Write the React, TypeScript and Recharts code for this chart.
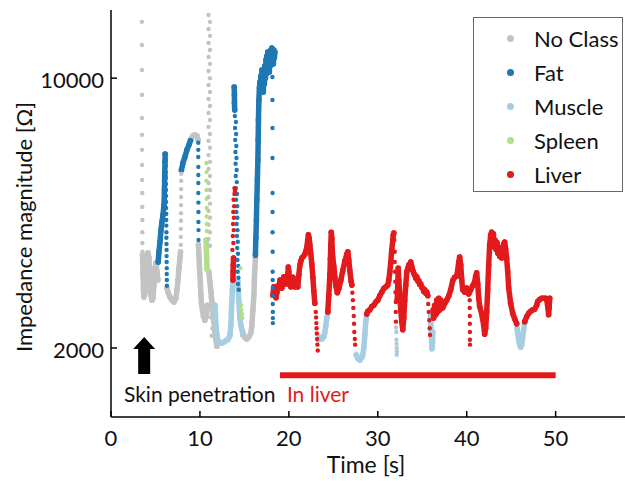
import React from "react";
import {
  ReferenceDot,
  ReferenceLine,
  Scatter,
  ScatterChart,
  XAxis,
  YAxis,
} from "recharts";

type Pt = [number, number];

const FONT = "Lato, 'Open Sans', sans-serif";

const classNames = ["No Class", "Fat", "Muscle", "Spleen", "Liver"];
const classColors = ["#c3c3c3", "#1f78b4", "#a6cee3", "#b2df8a", "#e31a1c"];
const xTicks = [0, 10, 20, 30, 40, 50];
const yTicks = [2000, 10000];

// ---- No Class (grey) ----
const noClassSparseA: Pt[] = [
  [3.47, 13990], [3.47, 12190], [3.48, 10500], [3.48, 9050], [3.48, 7890], [3.49, 7130],
  [3.49, 6520], [3.5, 5960], [3.5, 5450], [3.51, 5040], [3.51, 4640], [3.52, 4290],
  [3.52, 3990], [3.53, 3740], [3.54, 3550],
];
const noClassRunA: Pt[] = [
  [3.54, 3480], [3.6, 3090], [3.65, 2830], [3.71, 2710], [3.82, 2780], [3.93, 3000],
  [4.04, 3340], [4.16, 3530], [4.27, 3420], [4.38, 3040], [4.49, 2740], [4.61, 2660],
  [4.72, 2690], [4.83, 2910], [4.94, 3220], [5.06, 3320], [5.17, 3150], [5.28, 3000],
];
const noClassRunB: Pt[] = [
  [6.29, 2860], [6.4, 2790], [6.63, 2710], [6.85, 2660], [7.08, 2630], [7.3, 2690],
  [7.42, 2830], [7.53, 3000], [7.64, 3220], [7.75, 3420], [7.81, 3550],
];
const noClassSparseB: Pt[] = [
  [7.85, 3700], [7.86, 3880], [7.86, 4070], [7.87, 4270], [7.87, 4470], [7.88, 4690],
  [7.88, 4920], [7.89, 5160], [7.89, 5420], [7.9, 5650],
];
const noClassRunC: Pt[] = [
  [8.93, 6880], [8.99, 6960], [9.21, 7090], [9.44, 7130], [9.66, 7090], [9.78, 6920],
];
const noClassRunD: Pt[] = [
  [9.83, 3700], [9.89, 3480], [9.94, 3280], [10.0, 3090], [10.06, 2910], [10.11, 2740],
  [10.17, 2610], [10.28, 2510], [10.39, 2420], [10.56, 2360], [10.73, 2420], [10.84, 2580],
];
const noClassSparseC: Pt[] = [
  [10.97, 14580], [11.13, 13990], [10.97, 13410], [11.13, 12870], [10.97, 12340], [11.13, 11830],
  [10.97, 11350], [11.13, 10890], [10.97, 10440], [11.13, 10000], [10.97, 9600], [11.13, 9210],
  [10.97, 8830], [11.13, 8470], [10.97, 8120], [11.13, 7790], [10.97, 7480], [11.13, 7170],
  [10.97, 6880], [11.13, 6600], [10.97, 6320], [11.13, 6070], [10.97, 5820], [11.13, 5580],
  [10.97, 5350], [11.13, 5130], [10.97, 4920], [11.13, 4730], [10.97, 4530], [11.13, 4350],
  [10.97, 4170], [11.13, 3990], [10.97, 3830], [11.13, 3680],
  [11.2, 2700], [11.3, 2520], [11.25, 2400], [11.4, 2250], [11.32, 2150],
  [32.06, 2260], [32.11, 2050], [32.15, 1960],
];
const noClassRunE: Pt[] = [
  [11.01, 3150], [11.12, 2970], [11.24, 2790], [11.35, 2630], [11.46, 2480], [11.57, 2340],
  [11.69, 2200], [11.8, 2100], [11.91, 2020],
];
const noClassRunF: Pt[] = [
  [14.83, 2160], [15.06, 2130], [15.28, 2110], [15.51, 2140], [15.73, 2190], [15.84, 2290],
  [15.96, 2510], [16.07, 2740], [16.12, 3000], [16.18, 3220], [16.24, 3420],
];

// ---- Fat (dark blue) ----
const fatRunA: Pt[] = [
  [5.31, 3340], [5.39, 3550], [5.51, 3770], [5.62, 4040], [5.73, 4240], [5.84, 4420],
  [5.96, 4690], [6.01, 5130], [6.04, 5610], [6.07, 6070], [6.09, 6360],
];
const fatDotsA: Pt[] = [
  [6.16, 6140], [6.16, 5920], [6.17, 5710], [6.17, 5520], [6.18, 5320], [6.18, 5130],
  [6.19, 4950], [6.19, 4780], [6.2, 4610], [6.21, 4450], [6.21, 4290], [6.22, 4150],
  [6.23, 3990], [6.23, 3860], [6.24, 3720], [6.25, 3590], [6.25, 3460], [6.26, 3340],
  [6.27, 3220], [6.27, 3110], [6.28, 3000], [6.29, 2900],
];
const fatRunB: Pt[] = [
  [7.92, 5780], [8.09, 6030], [8.31, 6250], [8.54, 6520], [8.76, 6710], [8.93, 6880],
];
const fatDotsB: Pt[] = [
  [9.81, 6800], [9.81, 6520], [9.81, 6250], [9.82, 5890], [9.82, 5610], [9.82, 5350],
  [9.82, 5040], [9.83, 4760], [9.83, 4500], [9.83, 4240], [9.84, 4040], [9.84, 3810],
];
const fatRunC: Pt[] = [[13.85, 9490], [13.88, 9050], [13.88, 8630], [13.91, 8270]];
const fatDotsC: Pt[] = [
  [13.93, 7980], [14.05, 7700], [13.95, 7430], [14.07, 7170], [13.97, 6920], [14.09, 6670],
  [13.99, 6440], [14.11, 6210], [14.01, 6000], [14.13, 5780], [14.03, 5580], [14.15, 5380],
  [14.05, 5190], [14.17, 5010], [14.07, 4840], [14.19, 4660], [14.1, 4500], [14.21, 4350],
  [14.13, 4190], [14.23, 4040], [14.16, 3900], [14.26, 3770], [14.19, 3630], [14.28, 3510],
  [14.22, 3380], [14.31, 3260], [14.25, 3150], [14.33, 3040], [14.28, 2930], [14.36, 2830],
];
const fatRunD: Pt[] = [
  [16.24, 3480], [16.29, 3860], [16.35, 4290], [16.4, 4840], [16.46, 5450], [16.52, 6140],
  [16.55, 6920], [16.58, 7790], [16.63, 8780], [16.69, 9430], [16.74, 9770], [16.8, 9320],
  [16.85, 10130], [16.91, 9540], [16.97, 10500], [17.02, 9770], [17.08, 9890], [17.13, 9210],
  [17.19, 10380], [17.25, 9660], [17.3, 10760], [17.36, 10000], [17.42, 11150], [17.47, 10250],
  [17.53, 11410], [17.58, 10500], [17.64, 11690], [17.7, 10760], [17.75, 11410], [17.81, 10380],
  [17.87, 11550], [17.92, 10760], [17.98, 11830], [18.03, 11020], [18.09, 11970], [18.15, 11150],
  [18.2, 11690], [18.26, 10890], [18.31, 11830], [18.37, 11280], [18.43, 11690],
];
const fatDotsD: Pt[] = [
  [18.15, 10070], [18.15, 8780], [18.16, 7430], [18.16, 6210], [18.17, 5040], [18.17, 4500],
  [18.17, 3990], [18.18, 3550], [18.18, 3150], [18.18, 3000], [18.19, 2860], [18.19, 2730],
  [18.19, 2600], [18.2, 2480], [18.2, 2390], [18.2, 2320],
];

// ---- Muscle (light blue) ----
const muscleRunA: Pt[] = [
  [11.69, 2580], [11.74, 2440], [11.8, 2290], [11.91, 2160], [12.02, 2090], [12.25, 2060],
  [12.47, 2060], [12.7, 2070], [12.92, 2090], [13.15, 2100], [13.37, 2150], [13.48, 2290],
  [13.54, 2480], [13.6, 2660], [13.65, 2830], [13.71, 2970],
];
const muscleRunB: Pt[] = [
  [14.27, 2970], [14.33, 2790], [14.38, 2630], [14.44, 2510], [14.49, 2390], [14.61, 2290],
  [14.72, 2230], [14.83, 2190],
];
const muscleRunC: Pt[] = [
  [23.31, 2100], [23.48, 2130], [23.71, 2110], [23.93, 2140], [24.04, 2190], [24.16, 2290],
  [24.27, 2390], [24.38, 2480],
];
const muscleRunD: Pt[] = [
  [27.58, 1920], [27.75, 1880], [27.98, 1860], [28.2, 1890], [28.31, 1920], [28.43, 2000],
  [28.54, 2160], [28.65, 2340], [28.76, 2450],
];
const muscleRunE: Pt[] = [
  [35.93, 2420], [35.98, 2300], [36.02, 2180], [36.06, 2070], [36.1, 1990], [36.15, 2070],
  [36.2, 2200],
];
const muscleRunF: Pt[] = [
  [45.67, 2250], [45.73, 2190], [45.84, 2100], [45.96, 2040], [46.07, 2010], [46.18, 2040],
  [46.29, 2130], [46.4, 2230], [46.52, 2320],
];
const muscleDots: Pt[] = [[32.08, 2200], [32.1, 2100], [32.13, 2000], [32.13, 1920]];

// ---- Spleen (green) ----
const spleenRun: Pt[] = [
  [10.7, 3810], [10.72, 3660], [10.74, 3530], [10.76, 3400], [10.78, 3280], [10.8, 3200],
];
const spleenDots: Pt[] = [
  [10.73, 6030], [10.74, 5710], [10.74, 5420], [10.75, 5130], [10.75, 4870], [10.76, 4610],
  [10.76, 4380], [10.77, 4190], [10.77, 4020],
  [14.55, 3220], [14.61, 2580], [14.66, 2510], [14.72, 2450], [14.75, 2390],
];

// ---- Liver (red) ----
const liverRunA: Pt[] = [[13.71, 3000], [13.73, 3150], [13.75, 3280], [13.78, 3420]];
const liverRunB: Pt[] = [
  [18.2, 2740], [18.32, 2880], [18.43, 2830], [18.55, 2700], [18.65, 2780], [18.77, 2900],
  [18.88, 2860], [19.0, 3000], [19.1, 2970], [19.21, 2860], [19.33, 2960], [19.44, 3060],
  [19.55, 2950], [19.67, 3030], [19.78, 2930], [19.88, 3100], [19.94, 3240], [20.0, 3150],
  [20.05, 2990], [20.11, 3000], [20.22, 2880], [20.34, 2960], [20.45, 3050], [20.56, 2970],
  [20.68, 2880], [20.79, 2900], [20.9, 2960], [21.01, 2880], [21.12, 3090], [21.24, 3280],
  [21.35, 3360], [21.46, 3420], [21.62, 3450], [21.8, 3500], [21.91, 3560], [22.02, 3650],
  [22.12, 3800], [22.2, 3930], [22.28, 3850], [22.36, 3700], [22.47, 3500], [22.58, 3300],
  [22.7, 3050], [22.81, 2800], [22.92, 2610],
];
const liverRunC: Pt[] = [
  [24.38, 2480], [24.49, 2740], [24.61, 3090], [24.67, 3400], [24.72, 3700], [24.77, 3990],
  [24.83, 3850], [24.88, 3600], [24.94, 3420], [25.06, 3250], [25.17, 3050], [25.28, 2900],
  [25.45, 2780], [25.62, 2850], [25.85, 3000], [26.07, 3180], [26.3, 3360], [26.52, 3500],
  [26.63, 3550], [26.74, 3380], [26.85, 3180], [27.0, 2980], [27.08, 2910],
];
const liverRunD: Pt[] = [
  [28.76, 2450], [28.88, 2490], [29.1, 2510], [29.33, 2560], [29.55, 2580], [29.78, 2630],
  [30.0, 2660], [30.22, 2730], [30.45, 2790], [30.67, 2850], [30.9, 2880], [31.12, 2910],
  [31.24, 3000], [31.35, 3150], [31.46, 3340], [31.57, 3590], [31.69, 3810], [31.74, 3920],
  [31.8, 3970],
];
const liverRunE: Pt[] = [
  [32.19, 2660], [32.25, 2910], [32.3, 3220], [32.36, 3000], [32.47, 2740], [32.58, 2510],
  [32.7, 2340], [32.81, 2230], [32.92, 2390], [33.03, 2660], [33.15, 2910], [33.26, 3150],
  [33.48, 3280], [33.71, 3340], [33.82, 3250], [33.93, 3180], [34.05, 3120], [34.16, 3090],
  [34.27, 3030], [34.38, 3060], [34.5, 2980], [34.61, 2990], [34.72, 2920], [34.83, 2930],
  [34.95, 2870], [35.06, 2860], [35.17, 2800], [35.28, 2830], [35.4, 2770], [35.51, 2790],
  [35.62, 2730],
];
const liverRunF: Pt[] = [
  [36.24, 2510], [36.29, 2390], [36.4, 2580], [36.52, 2440], [36.63, 2660], [36.74, 2480],
  [36.85, 2690], [36.97, 2510], [37.08, 2660], [37.3, 2540], [37.53, 2610], [37.75, 2660],
  [37.98, 2730], [38.2, 2830], [38.43, 2990], [38.65, 3050], [38.88, 3070], [38.99, 3180],
  [39.1, 3340], [39.21, 3440], [39.33, 3280], [39.44, 3000], [39.55, 2830], [39.78, 2790],
  [40.0, 2860], [40.22, 2760], [40.45, 2830], [40.67, 2900], [40.9, 2970], [41.01, 3070],
  [41.12, 3130], [41.24, 2930], [41.35, 2690], [41.46, 2560], [41.69, 2450], [41.91, 2290],
  [42.02, 2170], [42.13, 2250], [42.25, 2480], [42.36, 2830], [42.47, 3280], [42.58, 3700],
  [42.7, 3920], [42.81, 3990], [42.9, 3750], [43.0, 3950], [43.1, 3650], [43.2, 3800],
  [43.3, 3600], [43.4, 3750], [43.5, 3520], [43.6, 3650], [43.71, 3450], [43.8, 3580],
  [43.93, 3420], [44.04, 3600], [44.16, 3720], [44.27, 3760], [44.38, 3600], [44.49, 3420],
  [44.61, 3150], [44.72, 2860], [44.94, 2610], [45.17, 2460], [45.39, 2380], [45.62, 2310],
];
const liverRunG: Pt[] = [
  [46.52, 2340], [46.74, 2410], [46.97, 2460], [47.19, 2490], [47.42, 2510], [47.64, 2520],
  [47.87, 2580], [47.98, 2640], [48.2, 2670], [48.43, 2690], [48.65, 2690], [48.88, 2690],
  [48.99, 2670], [49.1, 2580], [49.21, 2440], [49.27, 2540], [49.33, 2690],
];
const liverDots: Pt[] = [
  [13.65, 3590], [13.76, 3740], [13.7, 3900], [13.8, 4040], [13.72, 4190], [13.82, 4350],
  [13.75, 4500], [13.85, 4660], [13.78, 4840], [13.88, 5010], [13.88, 5190], [13.93, 5100],
  [13.96, 5160],
  [23.03, 2480], [23.06, 2400], [23.09, 2320], [23.12, 2250], [23.15, 2180], [23.18, 2110],
  [23.21, 2040], [23.25, 1970],
  [27.14, 2780], [27.2, 2660], [27.25, 2540], [27.3, 2420], [27.33, 2310], [27.36, 2200],
  [27.42, 2110], [27.45, 2040],
  [31.85, 3810], [31.91, 3550], [31.91, 3340], [31.94, 3150], [31.97, 2970], [31.99, 2790],
  [32.02, 2630], [32.02, 2480], [32.04, 2340],
  [35.67, 2600], [35.73, 2480], [35.79, 2360], [35.84, 2250], [35.88, 2160],
  [40.34, 2660], [40.34, 2540], [40.35, 2420], [40.35, 2310], [40.36, 2200], [40.36, 2100],
  [40.37, 2040],
];

// annotations
const liverBar = { from: 19.0, to: 50.0, level: 1700 };
const arrowTip = { t: 3.73, z: 2136 };
const skinLabel = { t: 1.46, z: 1449, text: "Skin penetration" };
const liverLabel = { t: 19.78, z: 1449, text: "In liver" };

const classRuns: Pt[][][] = [
  [noClassRunA, noClassRunB, noClassRunC, noClassRunD, noClassRunE, noClassRunF],
  [fatRunA, fatRunB, fatRunC, fatRunD],
  [muscleRunA, muscleRunB, muscleRunC, muscleRunD, muscleRunE, muscleRunF],
  [spleenRun],
  [liverRunA, liverRunB, liverRunC, liverRunD, liverRunE, liverRunF, liverRunG],
];
const classDots: Pt[][] = [
  [...noClassSparseA, ...noClassSparseB, ...noClassSparseC],
  [...fatDotsA, ...fatDotsB, ...fatDotsC, ...fatDotsD],
  muscleDots,
  spleenDots,
  liverDots,
];

const rows = (pts: Pt[]) => pts.map(([t, z]) => ({ t, z }));

const dot = (color: string, r: number) => (p: any) =>
  <circle cx={p.cx} cy={p.cy} r={r} fill={color} />;

const XTick = (p: any) => (
  <g>
    <line x1={p.x} x2={p.x} y1={p.y} y2={p.y - 6} stroke="#000" strokeWidth={1.5} />
    <text x={p.x} y={p.y + 29} textAnchor="middle" fontSize={22} fontFamily={FONT} fill="#111">
      {p.payload.value}
    </text>
  </g>
);

const YTick = (p: any) => (
  <g>
    <line x1={p.x} x2={p.x + 6} y1={p.y} y2={p.y} stroke="#000" strokeWidth={1.5} />
    <text x={p.x - 7} y={p.y + 10} textAnchor="end" fontSize={22} fontFamily={FONT} fill="#111">
      {p.payload.value}
    </text>
  </g>
);

export default function App() {
  return (
    <div style={{ position: "absolute", left: 0, top: 0, width: 625, height: 481, background: "#fff" }}>
      <ScatterChart width={625} height={481} margin={{ top: 10, right: 0, bottom: 0, left: 0 }}>
        <XAxis
          type="number"
          dataKey="t"
          domain={[0, 57.8]}
          ticks={xTicks}
          tick={<XTick />}
          tickLine={false}
          tickSize={0}
          tickMargin={0}
          height={64}
          allowDataOverflow
          axisLine={{ stroke: "#000", strokeWidth: 1.5 }}
          label={{
            content: () => (
              <text x={366} y={473} textAnchor="middle" fontSize={23} fontFamily={FONT} fill="#111">
                Time [s]
              </text>
            ),
          }}
        />
        <YAxis
          type="number"
          dataKey="z"
          scale="log"
          domain={[1325, 15016]}
          ticks={yTicks}
          tick={<YTick />}
          tickLine={false}
          tickSize={0}
          tickMargin={0}
          width={111}
          allowDataOverflow
          axisLine={{ stroke: "#000", strokeWidth: 1.5 }}
          label={{
            content: () => (
              <text
                transform="translate(23,227) rotate(-90)"
                textAnchor="middle"
                dominantBaseline="central"
                fontSize={22}
                fontFamily={FONT}
                fill="#111"
              >
                Impedance magnitude [Ω]
              </text>
            ),
          }}
        />
        {classNames.map((name, ci) =>
          classRuns[ci].map((run, ri) => (
            <Scatter
              key={`${name}-run-${ri}`}
              name={name}
              data={rows(run)}
              fill={classColors[ci]}
              line={{ stroke: classColors[ci], strokeWidth: 5.5, strokeLinejoin: "round", strokeLinecap: "round" }}
              shape={dot(classColors[ci], 2.8)}
              isAnimationActive={false}
            />
          ))
        )}
        {classNames.map((name, ci) => (
          <Scatter
            key={`${name}-dots`}
            name={name}
            data={rows(classDots[ci])}
            fill={classColors[ci]}
            shape={dot(classColors[ci], 2.2)}
            isAnimationActive={false}
          />
        ))}
        <ReferenceLine
          segment={[
            { x: liverBar.from, y: liverBar.level },
            { x: liverBar.to, y: liverBar.level },
          ]}
          stroke="#e31a1c"
          strokeWidth={6}
        />
        <ReferenceDot
          x={arrowTip.t}
          y={arrowTip.z}
          r={0}
          shape={(p: any) => (
            <path
              d={`M${p.cx},${p.cy} L${p.cx + 11},${p.cy + 12} L${p.cx + 6},${p.cy + 12} L${p.cx + 6},${p.cy + 37} L${p.cx - 6},${p.cy + 37} L${p.cx - 6},${p.cy + 12} L${p.cx - 11},${p.cy + 12} Z`}
              fill="#000"
            />
          )}
        />
        <ReferenceDot
          x={skinLabel.t}
          y={skinLabel.z}
          r={0}
          shape={(p: any) => (
            <text x={p.cx} y={p.cy} fontSize={21} fontFamily={FONT} fill="#111">
              {skinLabel.text}
            </text>
          )}
        />
        <ReferenceDot
          x={liverLabel.t}
          y={liverLabel.z}
          r={0}
          shape={(p: any) => (
            <text x={p.cx} y={p.cy} fontSize={21} fontFamily={FONT} fill="#e31a1c">
              {liverLabel.text}
            </text>
          )}
        />
      </ScatterChart>
      <div
        style={{
          position: "absolute",
          left: 473,
          top: 17,
          width: 150,
          height: 175,
          border: "1px solid #666",
          boxSizing: "border-box",
          background: "#fff",
          fontFamily: FONT,
          fontSize: 22,
          color: "#111",
        }}
      >
        {classNames.map((name, i) => (
          <div
            key={name}
            style={{ position: "absolute", left: 0, top: 4 + 34 * i, height: 34, lineHeight: "34px", width: 148 }}
          >
            <span
              style={{
                position: "absolute",
                left: 33,
                top: 13,
                width: 7,
                height: 7,
                borderRadius: "50%",
                background: classColors[i],
              }}
            />
            <span style={{ position: "absolute", left: 60 }}>{name}</span>
          </div>
        ))}
      </div>
    </div>
  );
}
